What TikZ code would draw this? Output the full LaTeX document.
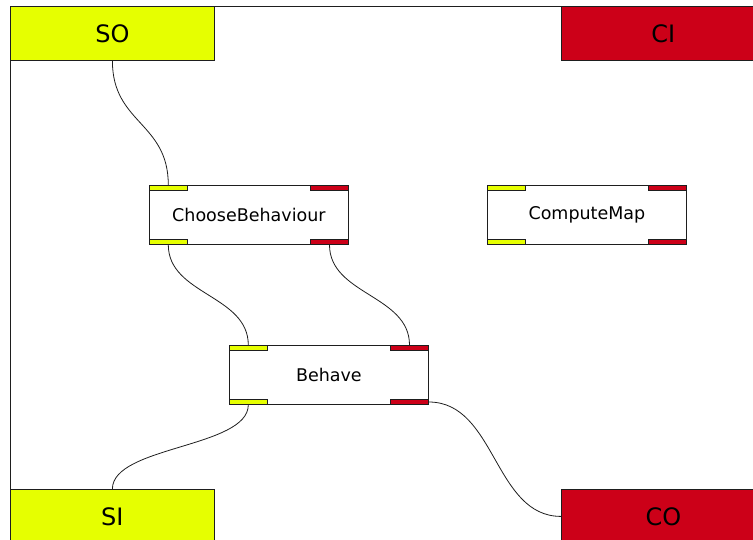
\documentclass[tikz,border=0pt]{standalone}
\usepackage{fontspec}
\setmainfont{DejaVu Sans}
\definecolor{ylw}{RGB}{230,255,0}
\definecolor{rd}{RGB}{204,0,24}
\definecolor{ln}{RGB}{30,30,30}
\begin{document}
\begin{tikzpicture}[x=1pt,y=-1pt,
  term/.style={draw=ln,line width=0.8pt,minimum width=204pt,minimum height=54pt,inner sep=0pt,anchor=north west,font=\fontsize{24}{28}\selectfont},
  comp/.style={draw=ln,fill=white,line width=0.8pt,minimum width=199pt,minimum height=59pt,inner sep=0pt,anchor=north west,font=\fontsize{17.5}{21}\selectfont},
  port/.style={draw=ln,line width=0.6pt,minimum width=38pt,minimum height=5pt,inner sep=0pt},
  wire/.style={draw=ln,line width=0.8pt}]
\useasboundingbox (0,0) rectangle (753,539);
\clip (0,0) rectangle (753,539);
\draw[wire] (10,545) -- (10,6) -- (760,6);
% terminals
\node[term,fill=ylw] (so) at (10,6) {SO};
\node[term,fill=rd] (ci) at (561,6) {CI};
\node[term,fill=ylw] (si) at (10,489) {SI};
\node[term,fill=rd] (co) at (561,489) {CO};
% components
\node[comp] (cb) at (149,185) {ChooseBehaviour};
\node[comp] (cm) at (487,185) {ComputeMap};
\node[comp] (be) at (229,345) {Behave};
% ports
\foreach \c in {cb,cm,be}{
  \node[port,fill=ylw,anchor=north west] (\c TL) at (\c.north west) {};
  \node[port,fill=rd,anchor=north east] (\c TR) at (\c.north east) {};
  \node[port,fill=ylw,anchor=south west] (\c BL) at (\c.south west) {};
  \node[port,fill=rd,anchor=south east] (\c BR) at (\c.south east) {};
}
% wires
\draw[wire] (so.south) .. controls +(0,63) and +(0,-63) .. (cbTL.north);
\draw[wire] (cbBL.south) .. controls +(0,50) and +(0,-50) .. (beTL.north);
\draw[wire] (cbBR.south) .. controls +(0,50) and +(0,-50) .. (beTR.north);
\draw[wire] (beBL.south) .. controls +(0,43) and +(0,-43) .. (si.north);
\draw[wire] (beBR.east) .. controls +(67,0) and +(-67,0) .. (co.west);
\end{tikzpicture}
\end{document}
